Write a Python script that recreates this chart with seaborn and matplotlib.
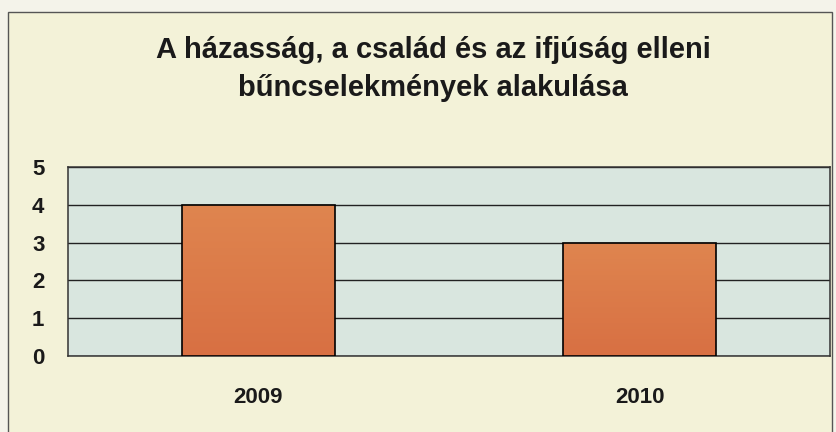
import numpy as np
import pandas as pd
import matplotlib.pyplot as plt
import seaborn as sns
from matplotlib.patches import Rectangle
from matplotlib.colors import LinearSegmentedColormap

# data
years = ['2009', '2010']
counts = [4, 3]

df = pd.DataFrame({'Év': years, 'Darab': counts})

sns.set_style('white')
plt.rcParams['font.family'] = ['Liberation Sans', 'DejaVu Sans']
plt.rcParams['font.weight'] = 'bold'

fig = plt.figure(figsize=(8.36, 4.32), dpi=100, facecolor='#f4f3ea')
# chart frame, kept behind the axes
fig.patches.append(Rectangle((8 / 836, -0.01), 824 / 836, 1 - 12 / 432 + 0.01,
                             transform=fig.transFigure, facecolor='#f3f2d8',
                             edgecolor='#555555', linewidth=1.0, zorder=-10))

ax = fig.add_axes([68 / 836, 1 - 356 / 432, 762 / 836, 189 / 432])
ax.set_facecolor('#d9e6df')

sns.barplot(data=df, x='Év', y='Darab', color='#dc7b47', edgecolor='black',
            linewidth=1.2, width=0.4, saturation=1, ax=ax, zorder=3)

# soft orange gradient inside each bar (slightly lighter at the top)
grad = LinearSegmentedColormap.from_list('bar', ['#d87043', '#df854f'])
for p in ax.patches:
    x0, y0 = p.get_x(), p.get_y()
    w, h = p.get_width(), p.get_height()
    im = ax.imshow(np.linspace(0, 1, 100).reshape(-1, 1), cmap=grad, origin='lower',
                   extent=[x0, x0 + w, y0, y0 + h], aspect='auto', zorder=3.5)
    im.set_clip_path(p)
    p.set_zorder(4)
    p.set_facecolor('none')

ax.set_ylim(0, 5)
ax.set_yticks(range(6))
ax.yaxis.grid(True, color='#222222', linewidth=1.0, zorder=1)
ax.set_axisbelow(True)
ax.set_xlim(-0.5, 1.5)
ax.set_xticks([-0.5, 0.5, 1.5], minor=True)
ax.tick_params(axis='x', which='minor', length=7, width=1, color='#444444', direction='out')
ax.tick_params(axis='x', which='major', length=0, pad=22, labelsize=16)
ax.tick_params(axis='y', length=7, width=1, color='#333333', direction='out', pad=10, labelsize=16)
for lab in ax.get_xticklabels() + ax.get_yticklabels():
    lab.set_fontweight('bold')
    lab.set_color('#1a1a1a')
for s in ax.spines.values():
    s.set_color('#333333')
    s.set_linewidth(1.1)
ax.set_xlabel('')
ax.set_ylabel('')

fig.text(0.518, 1 - 69 / 432,
         'A házasság, a család és az ifjúság elleni\nbűncselekmények alakulása',
         ha='center', va='center', fontsize=21, fontweight='bold', color='#1a1a1a',
         linespacing=1.45)

fig.savefig('out.png', dpi=100, facecolor=fig.get_facecolor())
